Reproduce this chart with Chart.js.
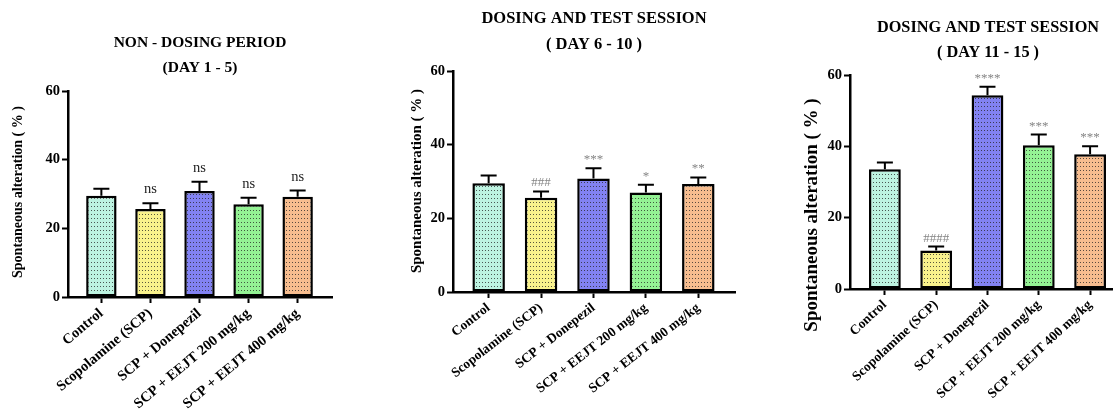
<!DOCTYPE html>
<html>
<head>
<meta charset="utf-8">
<script src="https://cdn.jsdelivr.net/npm/chart.js@4.4.1/dist/chart.umd.min.js"></script>
<style>
  html, body { margin: 0; padding: 0; background: #fff; width: 1113px; height: 416px; overflow: hidden; position: relative; }
  canvas { position: absolute; top: 0; }
</style>
</head>
<body>
<canvas id="p1" width="370" height="416" style="left:0px"></canvas>
<canvas id="p2" width="370" height="416" style="left:370px"></canvas>
<canvas id="p3" width="400" height="416" style="left:740px"></canvas>
<script>
// Treatment groups (x categories)
const groups = ['Control', 'Scopolamine (SCP)', 'SCP + Donepezil', 'SCP + EEJT 200 mg/kg', 'SCP + EEJT 400 mg/kg'];
const groupColors = ['#bdf3e1', '#f9f28c', '#8282f2', '#94f294', '#f7bd8f'];
const yTicks = [0, 20, 40, 60];

// Day 1 - 5 (non-dosing period): mean and SEM of spontaneous alternation (%)
const day1to5Mean = [29.5, 25.6, 30.9, 27.0, 29.2];
const day1to5Sem  = [2.0, 1.7, 2.7, 1.9, 1.8];
const day1to5Sig  = ['', 'ns', 'ns', 'ns', 'ns'];

// Day 6 - 10 (dosing and test session)
const day6to10Mean = [29.5, 25.6, 30.8, 27.0, 29.3];
const day6to10Sem  = [2.1, 1.7, 2.8, 2.1, 1.8];
const day6to10Sig  = ['', '###', '***', '*', '**'];

// Day 11 - 15 (dosing and test session)
const day11to15Mean = [33.6, 10.8, 54.3, 40.3, 37.8];
const day11to15Sem  = [1.9, 1.1, 2.4, 3.0, 2.2];
const day11to15Sig  = ['', '####', '****', '***', '***'];

const SERIF = '"Liberation Serif", "Times New Roman", serif';

// Dotted fill used inside each bar
function dottedFill(color) {
  const c = document.createElement('canvas');
  c.width = 3; c.height = 4;
  const g = c.getContext('2d');
  g.fillStyle = color;
  g.fillRect(0, 0, 3, 4);
  g.fillStyle = 'rgba(35,35,35,0.75)';
  g.fillRect(1, 2, 1, 1);
  return g.createPattern(c, 'repeat');
}

// Upper SEM whisker plus significance mark above each bar
const errorBars = {
  id: 'errorBars',
  afterDatasetsDraw(chart, args, o) {
    const ctx = chart.ctx;
    const yScale = chart.scales.y;
    const meta = chart.getDatasetMeta(0);
    const pts = chart.data.datasets[0].data;
    ctx.save();
    meta.data.forEach((bar, i) => {
      const top = yScale.getPixelForValue(pts[i].y + o.sem[i]);
      ctx.strokeStyle = '#000';
      ctx.lineWidth = 2;
      ctx.beginPath();
      ctx.moveTo(bar.x, bar.y);
      ctx.lineTo(bar.x, top);
      ctx.moveTo(bar.x - o.cap, top);
      ctx.lineTo(bar.x + o.cap, top);
      ctx.stroke();
      const mark = o.marks[i];
      if (mark) {
        ctx.font = `${o.markSize}px ${SERIF}`;
        ctx.fillStyle = o.markColor;
        ctx.textAlign = 'center';
        ctx.textBaseline = 'alphabetic';
        ctx.fillText(mark, bar.x, top - o.markGap);
      }
    });
    ctx.restore();
  }
};

// Rotated y-axis caption
const sideTitle = {
  id: 'sideTitle',
  afterDraw(chart, args, o) {
    const ctx = chart.ctx;
    ctx.save();
    ctx.translate(o.x, o.y);
    ctx.rotate(-Math.PI / 2);
    ctx.font = `bold ${o.size}px ${SERIF}`;
    ctx.fillStyle = '#000';
    ctx.textAlign = 'center';
    ctx.textBaseline = 'middle';
    ctx.fillText(o.text, 0, 0);
    ctx.restore();
  }
};

function panel(id, p) {
  const fills = groupColors.map(dottedFill);
  return new Chart(document.getElementById(id), {
    type: 'bar',
    data: {
      datasets: [{
        data: p.mean.map((v, i) => ({ x: i, y: v })),
        backgroundColor: fills,
        borderColor: '#000',
        borderWidth: 2.5,
        borderSkipped: false,
        barPercentage: 0.62,
        categoryPercentage: 1
      }]
    },
    options: {
      responsive: false,
      animation: false,
      devicePixelRatio: 1,
      events: [],
      layout: { padding: { left: 0, top: 0, right: p.padRight, bottom: 0 } },
      plugins: {
        legend: { display: false },
        tooltip: { enabled: false },
        title: {
          display: true,
          fullSize: false,
          text: p.title,
          color: '#000',
          font: { family: SERIF, weight: 'bold', size: p.titleSize, lineHeight: p.titleLine + 'px' },
          padding: { top: p.titleTop, bottom: p.titleBottom }
        },
        errorBars: { sem: p.sem, marks: p.marks, cap: 8, markSize: p.markSize, markColor: p.markColor, markGap: p.markGap },
        sideTitle: { text: 'Spontaneous alteration ( % )', x: p.sideX, y: p.sideY, size: p.sideSize }
      },
      scales: {
        x: {
          type: 'linear',
          min: -0.68,
          max: 4.7,
          offset: false,
          afterBuildTicks: s => { s.ticks = groups.map((g, i) => ({ value: i })); },
          afterFit: s => { s.height = p.xHeight; },
          border: { display: true, color: '#000', width: 2.5 },
          grid: { display: true, offset: false, drawOnChartArea: false, drawTicks: true, tickLength: 6, tickColor: '#000', tickWidth: 2 },
          ticks: {
            autoSkip: false,
            minRotation: p.rot,
            maxRotation: p.rot,
            padding: 2,
            color: '#000',
            font: { family: SERIF, weight: 'bold', size: p.xSize },
            callback: v => groups[v]
          }
        },
        y: {
          min: 0,
          max: 60,
          afterBuildTicks: s => { s.ticks = yTicks.map(v => ({ value: v })); },
          afterFit: s => { s.width = p.yWidth; },
          border: { display: true, color: '#000', width: 2.5 },
          grid: { display: true, drawOnChartArea: false, drawTicks: true, tickLength: 6, tickColor: '#000', tickWidth: 2 },
          ticks: {
            padding: 2,
            color: '#000',
            font: { family: SERIF, weight: 'bold', size: 14.5 }
          }
        }
      }
    },
    plugins: [errorBars, sideTitle]
  });
}

panel('p1', {
  mean: day1to5Mean, sem: day1to5Sem, marks: day1to5Sig,
  title: ['NON - DOSING PERIOD', '(DAY 1 - 5)'], titleSize: 15.5, titleLine: 25, titleTop: 30.5, titleBottom: 10.5,
  padRight: 38, yWidth: 68, xHeight: 119, rot: 40, xSize: 14.5,
  markSize: 14.5, markColor: '#222', markGap: 10,
  sideX: 18, sideY: 192, sideSize: 14
});

panel('p2', {
  mean: day6to10Mean, sem: day6to10Sem, marks: day6to10Sig,
  title: ['DOSING AND TEST SESSION', '( DAY 6 - 10 )'], titleSize: 16.5, titleLine: 26, titleTop: 6, titleBottom: 13,
  padRight: 5, yWidth: 83, xHeight: 124, rot: 38, xSize: 13.5,
  markSize: 13, markColor: '#858585', markGap: 5,
  sideX: 47, sideY: 181, sideSize: 15
});

panel('p3', {
  mean: day11to15Mean, sem: day11to15Sem, marks: day11to15Sig,
  title: ['DOSING AND TEST SESSION', '( DAY 11 - 15 )'], titleSize: 16.3, titleLine: 25, titleTop: 15.5, titleBottom: 9.5,
  padRight: 14, yWidth: 110, xHeight: 127, rot: 43, xSize: 13.5,
  markSize: 13, markColor: '#858585', markGap: 5,
  sideX: 72, sideY: 215, sideSize: 19
});
</script>
</body>
</html>
